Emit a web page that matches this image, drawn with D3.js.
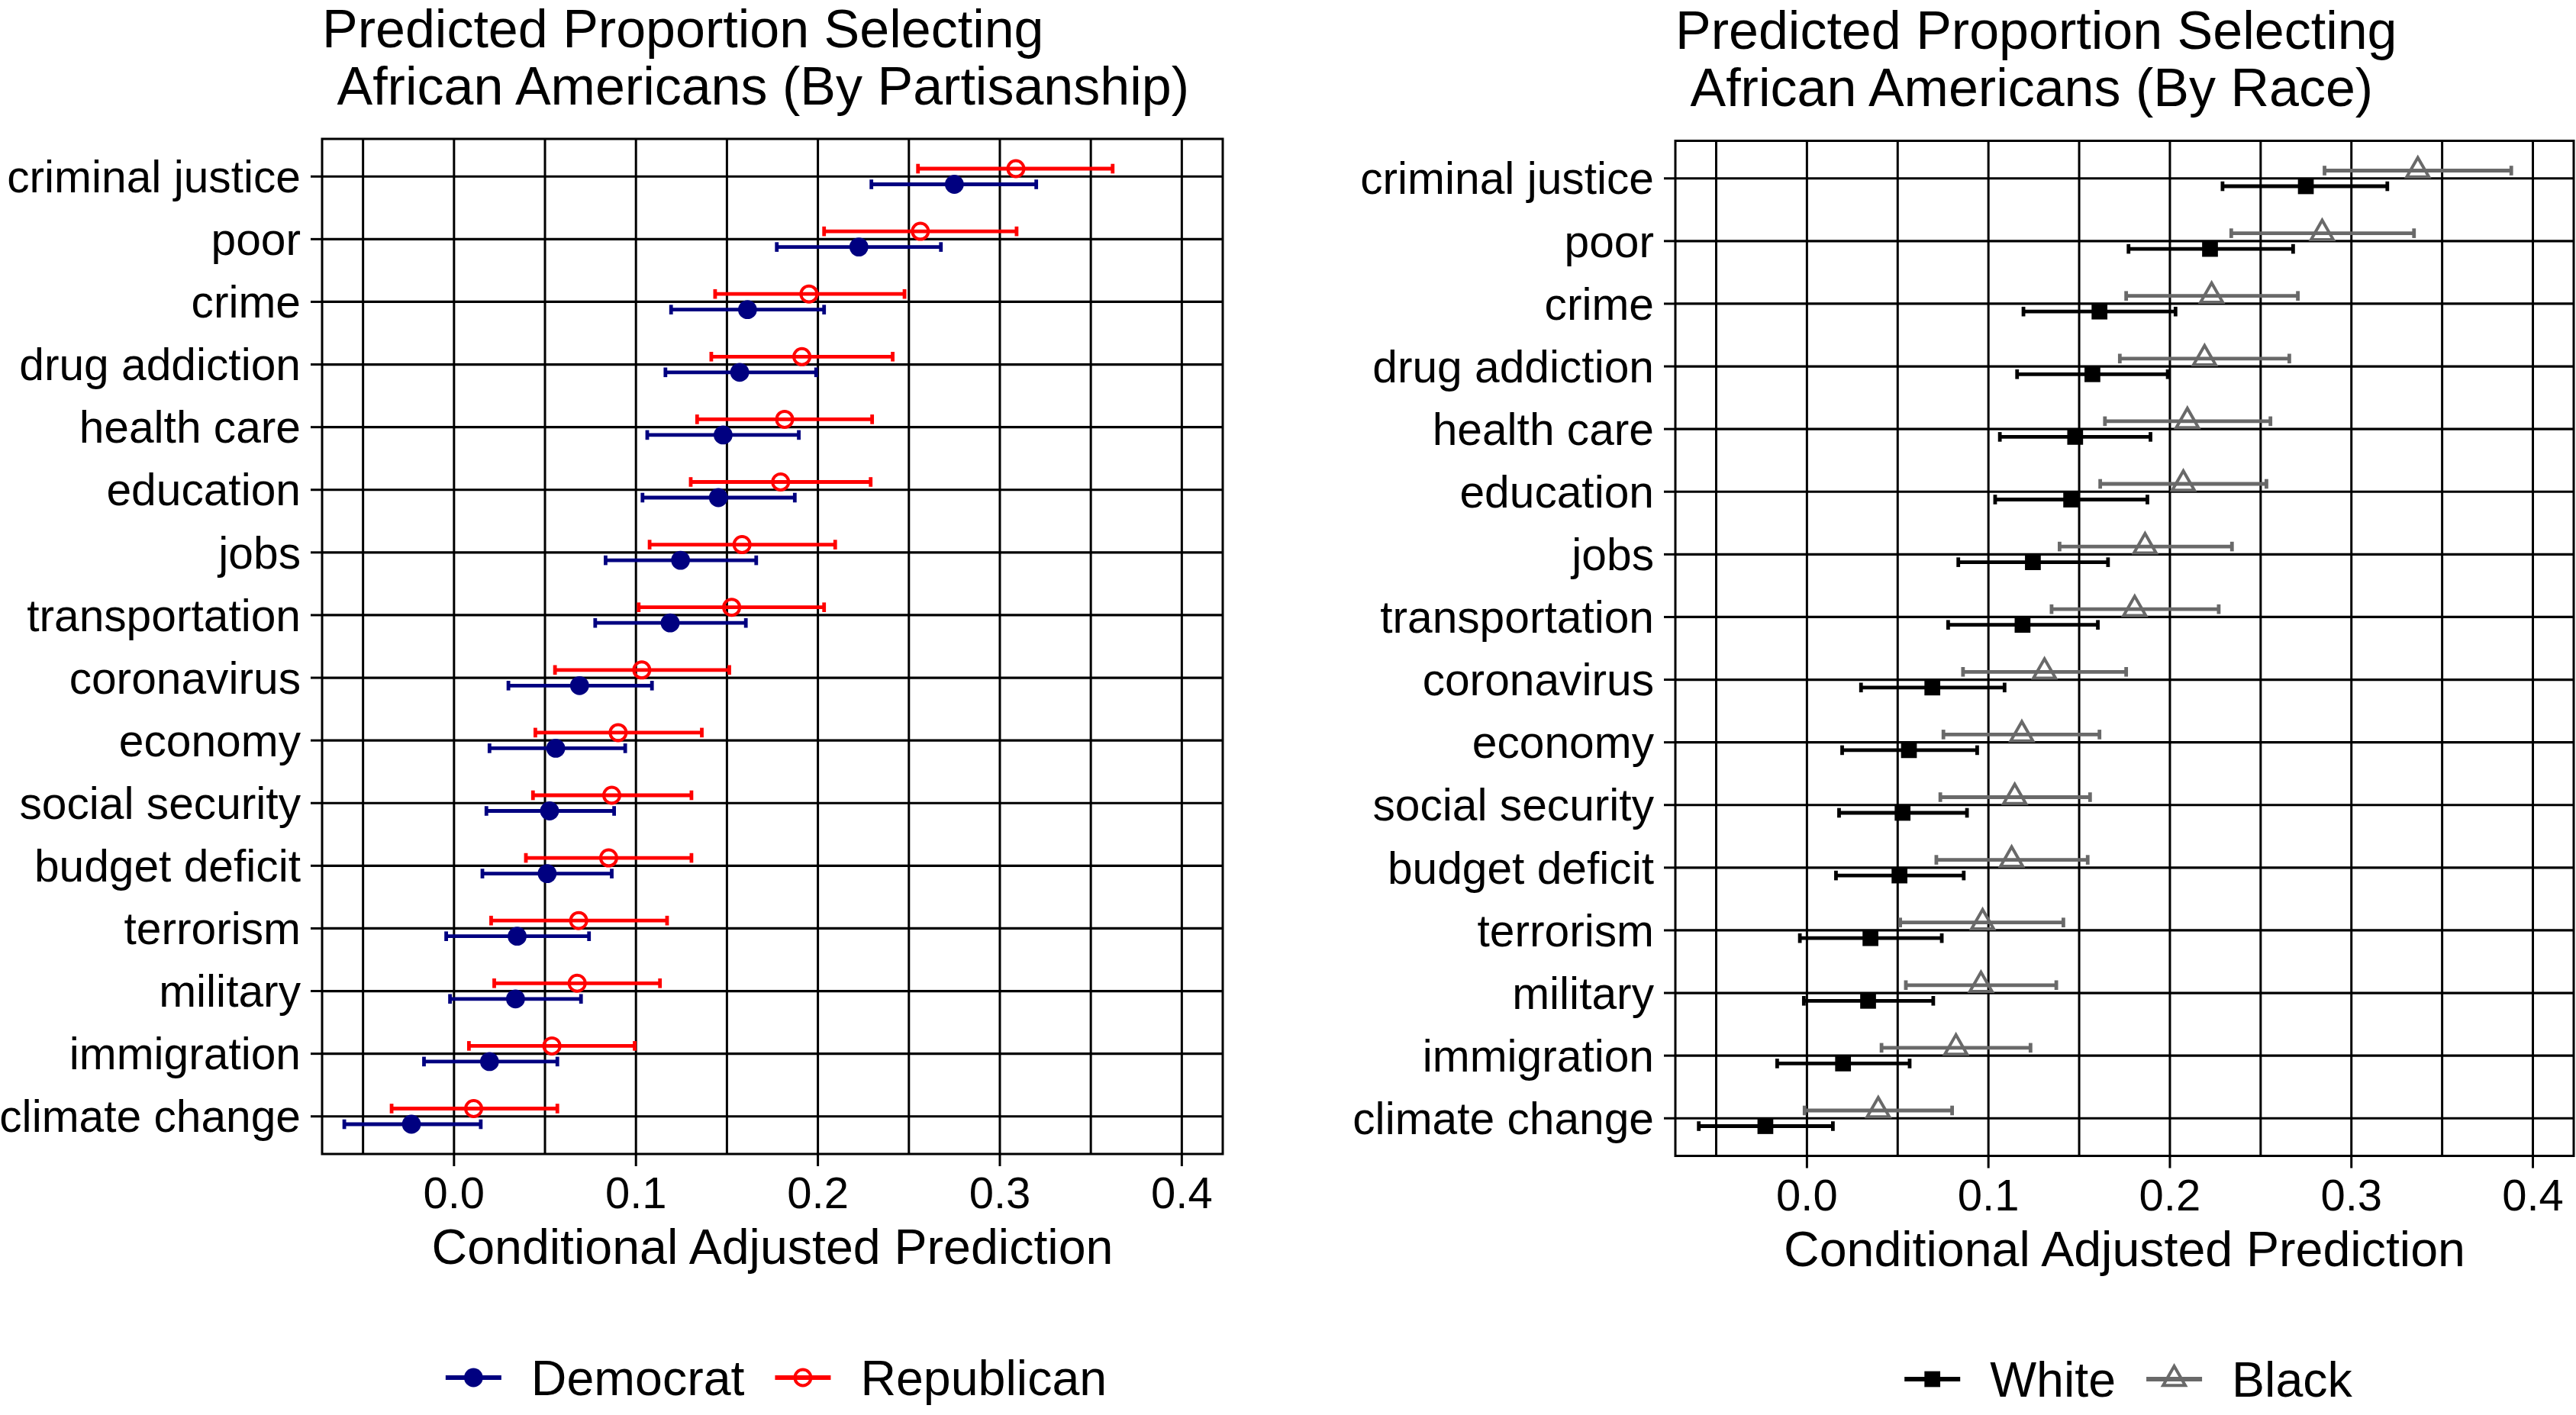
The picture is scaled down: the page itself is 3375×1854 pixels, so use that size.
<!DOCTYPE html>
<html>
<head>
<meta charset="utf-8">
<script src="https://cdn.jsdelivr.net/npm/d3@7"></script>
<style>
  html, body { margin: 0; padding: 0; background: #fff; }
  svg { display: block; }
  text { font-family: "Liberation Sans", Arial, sans-serif; fill: #000; }
</style>
</head>
<body>
<script>
// ---------------- DATA ----------------
const categories = ["criminal justice","poor","crime","drug addiction","health care","education","jobs","transportation","coronavirus","economy","social security","budget deficit","terrorism","military","immigration","climate change"];

const xTicks = [0.0, 0.1, 0.2, 0.3, 0.4];
const xTickLabels = ["0.0", "0.1", "0.2", "0.3", "0.4"];
const xGrid = [-0.05, 0, 0.05, 0.1, 0.15, 0.2, 0.25, 0.3, 0.35, 0.4];

const demEst  = [0.2750, 0.2225, 0.1613, 0.1570, 0.1479, 0.1453, 0.1245, 0.1188, 0.0690, 0.0559, 0.0525, 0.0512, 0.0347, 0.0338, 0.0195, -0.0234];
const demLow  = [0.2294, 0.1774, 0.1193, 0.1162, 0.1062, 0.1036, 0.0833, 0.0776, 0.0299, 0.0195, 0.0178, 0.0156, -0.0043, -0.0022, -0.0165, -0.0603];
const demHigh = [0.3200, 0.2676, 0.2034, 0.1990, 0.1895, 0.1873, 0.1661, 0.1604, 0.1088, 0.0941, 0.0880, 0.0867, 0.0742, 0.0698, 0.0568, 0.0147];

const repEst  = [0.3088, 0.2563, 0.1951, 0.1912, 0.1817, 0.1795, 0.1583, 0.1526, 0.1032, 0.0902, 0.0867, 0.0850, 0.0685, 0.0677, 0.0538, 0.0108];
const repLow  = [0.2550, 0.2034, 0.1435, 0.1414, 0.1336, 0.1301, 0.1075, 0.1015, 0.0555, 0.0447, 0.0434, 0.0395, 0.0204, 0.0221, 0.0082, -0.0343];
const repHigh = [0.3620, 0.3092, 0.2476, 0.2411, 0.2298, 0.2290, 0.2095, 0.2034, 0.1513, 0.1362, 0.1305, 0.1305, 0.1171, 0.1132, 0.0993, 0.0568];

const whiteEst  = [0.2749, 0.2221, 0.1612, 0.1573, 0.1478, 0.1456, 0.1245, 0.1188, 0.0691, 0.0562, 0.0527, 0.0510, 0.0350, 0.0337, 0.0199, -0.0229];
const whiteLow  = [0.2290, 0.1772, 0.1193, 0.1158, 0.1063, 0.1037, 0.0834, 0.0778, 0.0298, 0.0194, 0.0177, 0.0160, -0.0039, -0.0017, -0.0164, -0.0596];
const whiteHigh = [0.3198, 0.2679, 0.2031, 0.1988, 0.1893, 0.1876, 0.1659, 0.1603, 0.1089, 0.0938, 0.0882, 0.0864, 0.0743, 0.0696, 0.0566, 0.0143];

const blackEst  = [0.3366, 0.2839, 0.2230, 0.2191, 0.2096, 0.2074, 0.1863, 0.1806, 0.1309, 0.1184, 0.1145, 0.1128, 0.0968, 0.0959, 0.0821, 0.0393];
const blackLow  = [0.2852, 0.2338, 0.1759, 0.1724, 0.1642, 0.1616, 0.1392, 0.1348, 0.0860, 0.0752, 0.0735, 0.0713, 0.0514, 0.0545, 0.0411, -0.0013];
const blackHigh = [0.3881, 0.3345, 0.2705, 0.2658, 0.2554, 0.2532, 0.2342, 0.2269, 0.1759, 0.1612, 0.1560, 0.1547, 0.1413, 0.1374, 0.1232, 0.0800];

const leftTitle = ["Predicted Proportion Selecting", "African Americans (By Partisanship)"];
const rightTitle = ["Predicted Proportion Selecting", "African Americans (By Race)"];
const xAxisTitle = "Conditional Adjusted Prediction";

// ---------------- DRAWING ----------------
const W = 3375, H = 1854;
const svg = d3.select("body").append("svg").attr("width", W).attr("height", H);
svg.append("rect").attr("width", W).attr("height", H).attr("fill", "#fff");

const FONT = '"Liberation Sans", Arial, sans-serif';
const TITLE_SIZE = 70;

function marker(g, shape, color, x, y) {
  if (shape === "dot") {
    g.append("circle").attr("cx", x).attr("cy", y).attr("r", 12.4).attr("fill", color);
  } else if (shape === "ring") {
    g.append("circle").attr("cx", x).attr("cy", y).attr("r", 10.5)
      .attr("fill", "none").attr("stroke", color).attr("stroke-width", 4);
  } else if (shape === "square") {
    g.append("rect").attr("x", x - 10.35).attr("y", y - 10.35).attr("width", 20.7).attr("height", 20.7).attr("fill", color);
  } else if (shape === "triangle") {
    g.append("path").attr("d", `M${x},${y - 17} L${x - 14.5},${y + 8.3} L${x + 14.5},${y + 8.3} Z`)
      .attr("fill", "none").attr("stroke", color).attr("stroke-width", 4).attr("stroke-linejoin", "miter");
  }
}

function drawPanel(cfg) {
  const x = d3.scaleLinear().domain([-0.0725, 0.4225]).range([cfg.left, cfg.right]);
  const y = d3.scalePoint().domain(categories).range([cfg.top, cfg.bottom]).padding(0.6);
  const step = y.step();
  const g = svg.append("g");

  // gridlines
  g.selectAll(".vg").data(xGrid).enter().append("line")
    .attr("x1", d => x(d)).attr("x2", d => x(d))
    .attr("y1", cfg.top).attr("y2", cfg.bottom)
    .attr("stroke", "#000").attr("stroke-width", 3);
  g.selectAll(".hg").data(categories).enter().append("line")
    .attr("x1", cfg.left).attr("x2", cfg.right)
    .attr("y1", d => y(d)).attr("y2", d => y(d))
    .attr("stroke", "#000").attr("stroke-width", 3.2);

  // series
  cfg.series.forEach(s => {
    const off = s.offset * step;
    const sg = g.append("g");
    categories.forEach((c, i) => {
      const yy = y(c) + off;
      const x1 = x(s.low[i]), x2 = x(s.high[i]);
      sg.append("line").attr("x1", x1).attr("x2", x2).attr("y1", yy).attr("y2", yy)
        .attr("stroke", s.color).attr("stroke-width", 4.8);
      [x1, x2].forEach(cx => {
        sg.append("line").attr("x1", cx).attr("x2", cx).attr("y1", yy - 6.3).attr("y2", yy + 6.3)
          .attr("stroke", s.color).attr("stroke-width", 4.8);
      });
    });
    categories.forEach((c, i) => {
      marker(sg, s.shape, s.color, x(s.est[i]), y(c) + off);
    });
  });

  // panel border
  g.append("rect").attr("x", cfg.left).attr("y", cfg.top)
    .attr("width", cfg.right - cfg.left).attr("height", cfg.bottom - cfg.top)
    .attr("fill", "none").attr("stroke", "#000").attr("stroke-width", 3);

  // y axis ticks + labels
  categories.forEach(c => {
    g.append("line").attr("x1", cfg.left - 15).attr("x2", cfg.left)
      .attr("y1", y(c)).attr("y2", y(c)).attr("stroke", "#000").attr("stroke-width", 3);
    g.append("text").attr("x", cfg.left - 28).attr("y", y(c) + 20.7)
      .attr("text-anchor", "end").attr("font-size", 58.7).attr("font-family", FONT).text(c);
  });

  // x axis ticks + labels
  xTicks.forEach((t, i) => {
    g.append("line").attr("x1", x(t)).attr("x2", x(t))
      .attr("y1", cfg.bottom).attr("y2", cfg.bottom + 16).attr("stroke", "#000").attr("stroke-width", 3);
    g.append("text").attr("x", x(t)).attr("y", cfg.bottom + 71)
      .attr("text-anchor", "middle").attr("font-size", 58).attr("font-family", FONT).text(xTickLabels[i]);
  });

  const cx = (cfg.left + cfg.right) / 2;
  g.append("text").attr("x", cx).attr("y", cfg.bottom + 144)
    .attr("text-anchor", "middle").attr("font-size", 64.5).attr("font-family", FONT).text(xAxisTitle);

  // title (second line indented by one space width, as in the original)
  const spaceW = 0.278 * TITLE_SIZE;
  cfg.title.forEach((line, i) => {
    g.append("text").attr("x", cfg.left + (i === 1 ? spaceW : 0)).attr("y", cfg.titleY + i * 75)
      .attr("font-size", TITLE_SIZE).attr("font-family", FONT).text(line);
  });

  // legend
  const lg = g.append("g");
  const keyW = 73, gapKT = 39, gapTK = 40;
  const items = cfg.series.slice().sort((a, b) => a.legendOrder - b.legendOrder);
  const widths = items.map(s => {
    const t = lg.append("text").attr("font-size", 64.5).attr("font-family", FONT).text(s.name);
    const w = t.node().getComputedTextLength();
    t.remove();
    return w;
  });
  let total = 0;
  items.forEach((s, i) => { total += keyW + gapKT + widths[i] + (i < items.length - 1 ? gapTK : 0); });
  let lx = cx + cfg.legendShift - total / 2;
  const ky = cfg.legendY - 23;
  items.forEach((s, i) => {
    lg.append("line").attr("x1", lx).attr("x2", lx + keyW).attr("y1", ky).attr("y2", ky)
      .attr("stroke", s.color).attr("stroke-width", 6);
    marker(lg, s.shape, s.color, lx + keyW / 2, ky);
    lg.append("text").attr("x", lx + keyW + gapKT).attr("y", cfg.legendY)
      .attr("font-size", 64.5).attr("font-family", FONT).text(s.name);
    lx += keyW + gapKT + widths[i] + gapTK;
  });
}

drawPanel({
  left: 422, right: 1602, top: 182, bottom: 1512,
  title: leftTitle, titleY: 62, legendY: 1828, legendShift: 5,
  series: [
    { name: "Democrat", est: demEst, low: demLow, high: demHigh, color: "#000080", shape: "dot", offset: 0.125, legendOrder: 0 },
    { name: "Republican", est: repEst, low: repLow, high: repHigh, color: "#FF0000", shape: "ring", offset: -0.125, legendOrder: 1 }
  ]
});

drawPanel({
  left: 2195, right: 3372, top: 184.5, bottom: 1514.5,
  title: rightTitle, titleY: 64, legendY: 1830, legendShift: 5,
  series: [
    { name: "White", est: whiteEst, low: whiteLow, high: whiteHigh, color: "#000000", shape: "square", offset: 0.125, legendOrder: 0 },
    { name: "Black", est: blackEst, low: blackLow, high: blackHigh, color: "#696969", shape: "triangle", offset: -0.125, legendOrder: 1 }
  ]
});
</script>
</body>
</html>
